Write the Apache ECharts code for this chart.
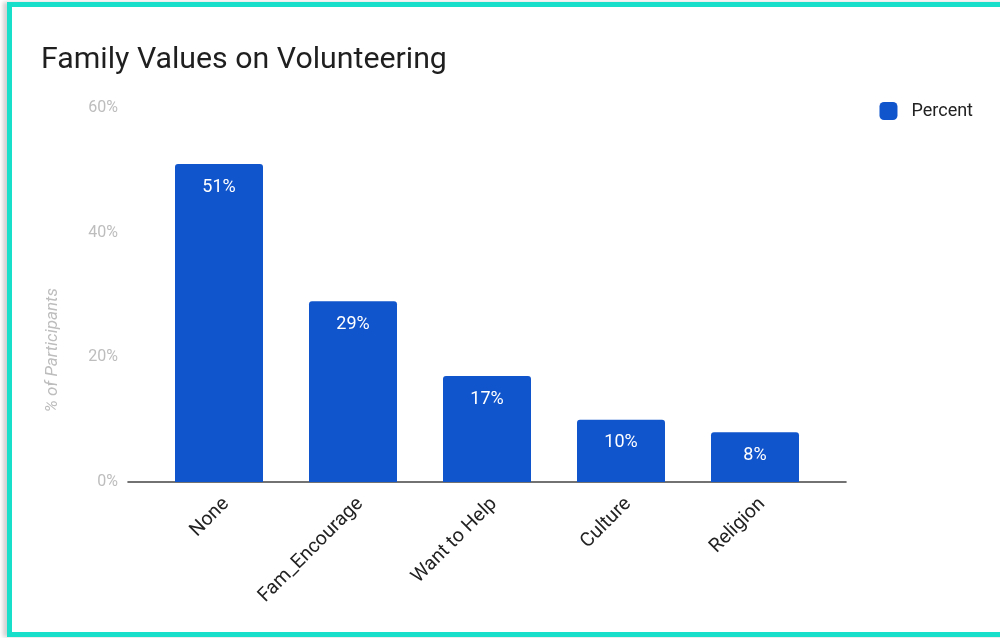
<!DOCTYPE html>
<html>
<head>
<meta charset="utf-8">
<script src="https://cdn.jsdelivr.net/npm/echarts@6/dist/echarts.min.js"></script>
<style>
  html, body { margin: 0; padding: 0; background: #ffffff; }
  #frame {
    position: absolute; left: 7px; top: 2px; width: 1000px; height: 635px;
    border: 5px solid #17dfc9; box-sizing: border-box;
    box-shadow: -4px 0 4px rgba(0,0,0,0.18);
  }
  #chart { position: absolute; left: 0; top: 0; width: 1000px; height: 638px; }
</style>
</head>
<body>
<div id="frame"></div>
<div id="chart"></div>
<script>
const categories = ['None', 'Fam_Encourage', 'Want to Help', 'Culture', 'Religion'];
const percentValues = [51, 29, 17, 10, 8];
const yTicks = [0, 20, 40, 60];

const chart = echarts.init(document.getElementById('chart'), null, { renderer: 'canvas' });
const font = 'Roboto, "Noto Sans", sans-serif';

chart.setOption({
  backgroundColor: 'transparent',
  animation: false,
  title: {
    text: 'Family Values on Volunteering',
    left: 36, top: 40,
    textStyle: { fontFamily: font, fontSize: 30.3, fontWeight: 'normal', color: '#1f1f1f' }
  },
  legend: {
    right: 22, top: 97,
    itemWidth: 18, itemHeight: 18, itemGap: 10,
    icon: 'roundRect',
    textStyle: { fontFamily: font, fontSize: 18, color: '#222222', padding: [0, 0, 0, 9] },
    data: ['Percent']
  },
  graphic: [{
    type: 'text',
    left: 44, top: 288,
    rotation: Math.PI / 2,
    style: {
      text: '% of Participants',
      font: 'italic 17px Roboto, sans-serif',
      fill: '#bdbdbd'
    }
  }],
  grid: [
    { left: 128, right: 154, top: 108, bottom: 156 },
    { left: 152, right: 178, top: 108, bottom: 156 }
  ],
  xAxis: [
    {
      gridIndex: 0, type: 'value', min: 0, max: 1,
      axisLine: { show: true, lineStyle: { color: '#444444', width: 1.6 } },
      axisTick: { show: false }, axisLabel: { show: false }, splitLine: { show: false }
    },
    {
      gridIndex: 1, type: 'category', data: categories,
      axisLine: { show: false }, axisTick: { show: false },
      axisLabel: {
        rotate: 45, margin: 12, interval: 0, verticalAlign: 'top',
        fontFamily: font, fontSize: 19.5, color: '#222222'
      }
    }
  ],
  yAxis: [
    {
      gridIndex: 0, type: 'value', min: yTicks[0], max: yTicks[yTicks.length - 1], interval: 20,
      axisLine: { show: false }, axisTick: { show: false },
      splitLine: { show: false },
      axisLabel: {
        margin: 10, fontFamily: font, fontSize: 16, color: '#bdbdbd',
        formatter: v => v + '%'
      }
    },
    {
      gridIndex: 1, type: 'value', min: yTicks[0], max: yTicks[yTicks.length - 1], interval: 20,
      show: false
    }
  ],
  series: [{
    name: 'Percent',
    type: 'bar',
    xAxisIndex: 1, yAxisIndex: 1,
    data: percentValues,
    barWidth: 88,
    itemStyle: { color: '#1155cc', borderRadius: [3, 3, 0, 0] },
    label: {
      show: true, position: 'insideTop', distance: 14,
      fontFamily: font, fontSize: 18, color: '#ffffff',
      formatter: p => p.value + '%'
    }
  }]
});
</script>
</body>
</html>
